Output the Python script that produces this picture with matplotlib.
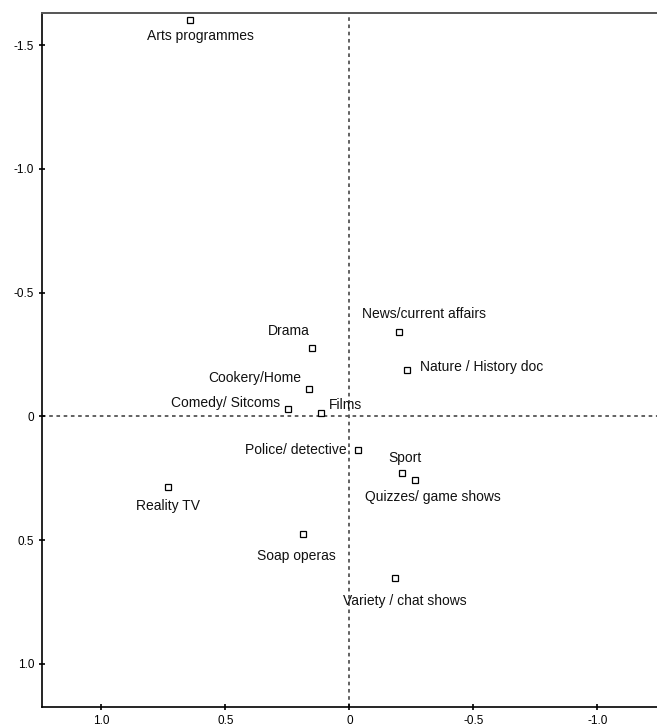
import matplotlib
matplotlib.use('Agg')
import matplotlib.pyplot as plt

plt.rcParams['font.family'] = ['Liberation Sans', 'DejaVu Sans']

# programme types, coordinates on the first two dimensions
genres = ['Arts programmes', 'Drama', 'News/current affairs', 'Nature / History doc',
          'Cookery/Home', 'Comedy/ Sitcoms', 'Films', 'Police/ detective', 'Sport',
          'Quizzes/ game shows', 'Reality TV', 'Soap operas', 'Variety / chat shows']
dim1 = [0.641, 0.152, -0.200, -0.232, 0.164, 0.247, 0.114, -0.033, -0.212,
        -0.265, 0.733, 0.185, -0.184]
dim2 = [-1.602, -0.277, -0.343, -0.189, -0.110, -0.032, -0.014, 0.135, 0.227,
        0.257, 0.284, 0.474, 0.654]

xticks = [1.0, 0.5, 0.0, -0.5, -1.0]
xticklabels = ['1.0', '0.5', '0', '-0.5', '-1.0']
yticks = [-1.5, -1.0, -0.5, 0.0, 0.5, 1.0]
yticklabels = ['-1.5', '-1.0', '-0.5', '0', '0.5', '1.0']

# label offsets (points) and alignment for each point
px = 0.72
offsets = {
    'Arts programmes': (9.8, -15.7, 'center'),
    'Drama': (-2.3, 17, 'right'),
    'News/current affairs': (25, 17.7, 'center'),
    'Nature / History doc': (13.3, 2.7, 'left'),
    'Cookery/Home': (-7, 11.3, 'right'),
    'Comedy/ Sitcoms': (-8, 6, 'right'),
    'Films': (7.3, 8, 'left'),
    'Police/ detective': (-11, 0, 'right'),
    'Sport': (3, 15, 'center'),
    'Quizzes/ game shows': (18, -16.7, 'center'),
    'Reality TV': (0.8, -19.3, 'center'),
    'Soap operas': (-7, -22, 'center'),
    'Variety / chat shows': (9.8, -22.7, 'center'),
}

fig = plt.figure(figsize=(6.57, 7.27), dpi=100)
ax = fig.add_axes([42 / 657, 20 / 727, 615 / 657, 694 / 727])

ax.axhline(0, color='#555555', lw=1.3, ls=(0, (2, 2)), zorder=1)
ax.axvline(0, color='#555555', lw=1.3, ls=(0, (2, 2)), zorder=1)

ax.plot(dim1, dim2, ls='none', marker='s', ms=4.3, mfc='white', mec='black',
        mew=0.9, zorder=3)

for g, x, y in zip(genres, dim1, dim2):
    dx, dy, ha = offsets[g]
    ax.annotate(g, (x, y), xytext=(dx * px, dy * px), textcoords='offset points',
                ha=ha, va='center', fontsize=10, color='#111111')

ax.set_xlim(1.239, -1.24)
ax.set_ylim(1.174, -1.630)
ax.set_xticks(xticks)
ax.set_xticklabels(xticklabels)
ax.set_yticks(yticks)
ax.set_yticklabels(yticklabels)
ax.tick_params(direction='inout', length=5, width=1.2, labelsize=8.5,
               colors='black', pad=3)

ax.spines['right'].set_visible(False)
for s in ['left', 'bottom']:
    ax.spines[s].set_linewidth(1.2)
    ax.spines[s].set_color('black')
ax.spines['top'].set_linewidth(1.4)
ax.spines['top'].set_color('#555555')

fig.savefig('out.png', dpi=100)
